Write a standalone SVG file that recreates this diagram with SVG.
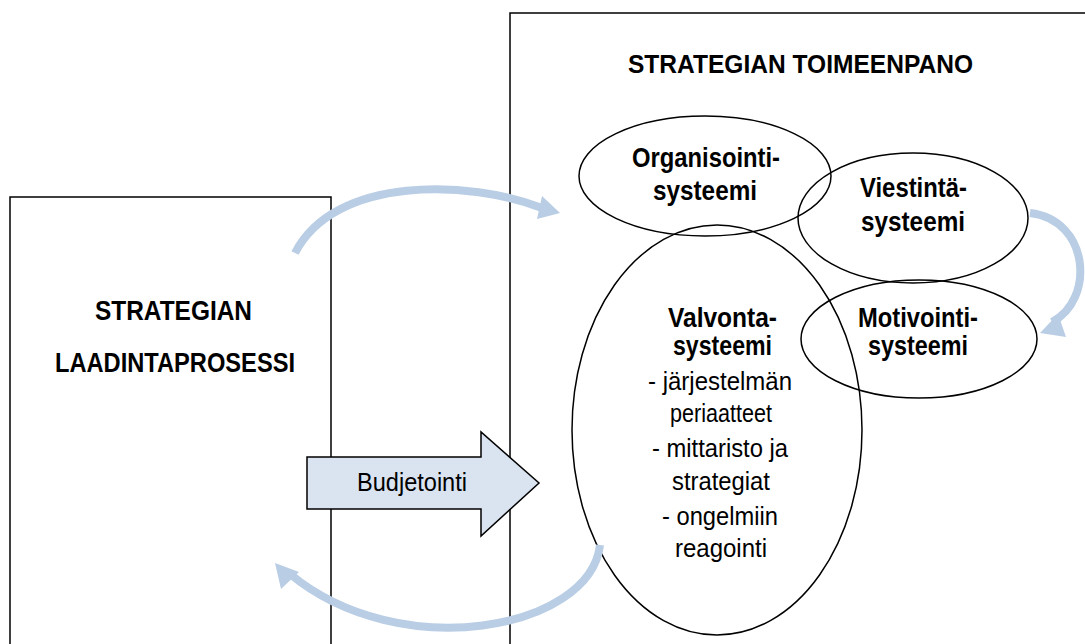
<svg xmlns="http://www.w3.org/2000/svg" width="1085" height="644" viewBox="0 0 1085 644">
<style>
.box{fill:none;stroke:#000;stroke-width:1.5}
.ell{fill:none;stroke:#000;stroke-width:1.5}
.b{font-family:"Liberation Sans",Arial,sans-serif;font-weight:bold;font-size:27px;fill:#000;text-anchor:middle}
.t{font-size:25px}
.r{font-family:"Liberation Sans",Arial,sans-serif;font-size:26px;fill:#000;text-anchor:middle}
.flow{fill:none;stroke:#b9cde5;stroke-width:8}
.head{fill:#b9cde5}
</style>
<rect width="1085" height="644" fill="#fff"/>
<g id="laadinta">
<rect class="box" x="10" y="197" width="321" height="460"/>
<text class="b" x="173.5" y="320" textLength="157" lengthAdjust="spacingAndGlyphs">STRATEGIAN</text>
<text class="b" x="175" y="372" textLength="240" lengthAdjust="spacingAndGlyphs">LAADINTAPROSESSI</text>
</g>
<g id="toimeenpano">
<rect class="box" x="510" y="13" width="600" height="650"/>
<text class="b t" x="800.5" y="73" textLength="345" lengthAdjust="spacingAndGlyphs">STRATEGIAN TOIMEENPANO</text>
</g>
<g id="organisointi">
<ellipse class="ell" cx="705" cy="176" rx="126" ry="60"/>
<text class="b" x="706" y="167" textLength="148" lengthAdjust="spacingAndGlyphs">Organisointi-</text>
<text class="b" x="705" y="200" textLength="104" lengthAdjust="spacingAndGlyphs">systeemi</text>
</g>
<g id="viestinta">
<ellipse class="ell" cx="913" cy="218" rx="115" ry="65"/>
<text class="b" x="913.5" y="197" textLength="107" lengthAdjust="spacingAndGlyphs">Viestintä-</text>
<text class="b" x="913" y="231" textLength="104" lengthAdjust="spacingAndGlyphs">systeemi</text>
</g>
<g id="motivointi">
<ellipse class="ell" cx="919" cy="339" rx="118" ry="59"/>
<text class="b" x="918" y="327" textLength="120" lengthAdjust="spacingAndGlyphs">Motivointi-</text>
<text class="b" x="918" y="355" textLength="100" lengthAdjust="spacingAndGlyphs">systeemi</text>
</g>
<g id="valvonta">
<ellipse class="ell" cx="717" cy="430" rx="145" ry="205"/>
<text class="b" x="722.5" y="327" textLength="109" lengthAdjust="spacingAndGlyphs">Valvonta-</text>
<text class="b" x="722.5" y="355" textLength="99" lengthAdjust="spacingAndGlyphs">systeemi</text>
<text class="r" x="720" y="390" textLength="144" lengthAdjust="spacingAndGlyphs">- järjestelmän</text>
<text class="r" x="721" y="422" textLength="102" lengthAdjust="spacingAndGlyphs">periaatteet</text>
<text class="r" x="720" y="457" textLength="136" lengthAdjust="spacingAndGlyphs">- mittaristo ja</text>
<text class="r" x="721" y="490" textLength="98" lengthAdjust="spacingAndGlyphs">strategiat</text>
<text class="r" x="720" y="525" textLength="116" lengthAdjust="spacingAndGlyphs">- ongelmiin</text>
<text class="r" x="721" y="557" textLength="92" lengthAdjust="spacingAndGlyphs">reagointi</text>
</g>
<g id="budjetointi">
<path d="M307,457 H481 V432 L539,483 L481,536 V509 H307 Z" fill="#dae3f0" stroke="#000" stroke-width="1.5"/>
<text class="r" x="412" y="491" textLength="110" lengthAdjust="spacingAndGlyphs">Budjetointi</text>
</g>
<g id="connectors">
<path class="flow" d="M295,253 C335,175 470,180 542,208"/>
<polygon class="head" points="560,213 542,196 537,219"/>
<path class="flow" d="M1030,213 C1090,220 1095,300 1052,322"/>
<polygon class="head" points="1040,333 1058,314 1066,337"/>
<path class="flow" d="M600,545 C590,630 400,665 290,574"/>
<polygon class="head" points="275,563 299,572 281,589"/>
</g>
</svg>
